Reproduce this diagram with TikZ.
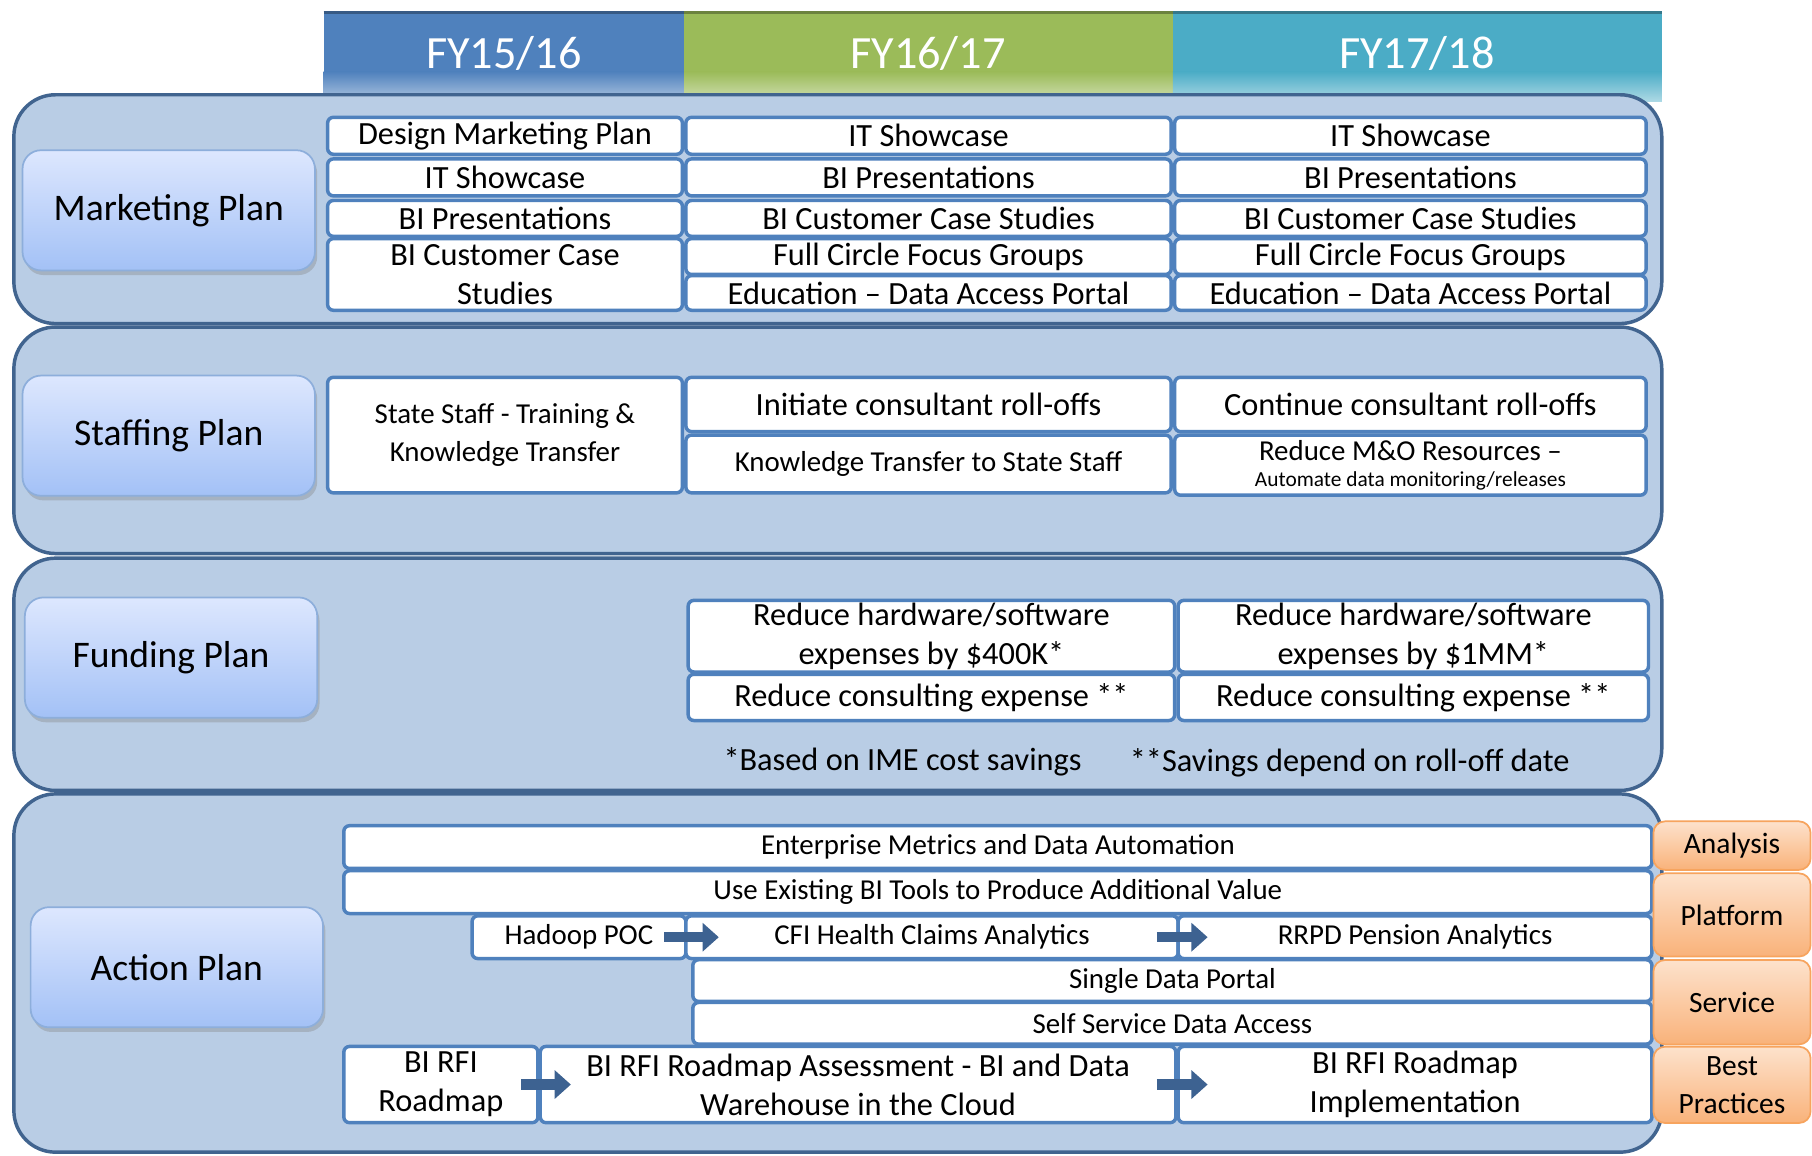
\documentclass[tikz,border=0pt]{standalone}
\usepackage{fontspec}
\setmainfont{Carlito}
\usetikzlibrary{arrows.meta,shadows}
\definecolor{fyblue}{HTML}{4F81BD}
\definecolor{fygreen}{HTML}{9BBB59}
\definecolor{fyteal}{HTML}{4BACC6}
\definecolor{panelfill}{HTML}{B9CDE5}
\definecolor{paneldraw}{HTML}{41648F}
\definecolor{cellblue}{HTML}{4F81BD}
\definecolor{arrowblue}{HTML}{3D6291}
\definecolor{plantop}{HTML}{DDE7FE}
\definecolor{planbot}{HTML}{A3C1F6}
\definecolor{plandraw}{HTML}{8DAEDB}
\definecolor{cattop}{HTML}{FDE2CC}
\definecolor{catbot}{HTML}{F9B27A}
\definecolor{catdraw}{HTML}{F7A45E}
\tikzset{
  panel/.style={draw=paneldraw, line width=3pt, fill=panelfill, rounded corners=36pt},
  plan/.style={draw=plandraw, line width=1.5pt, rounded corners=16pt, top color=plantop,
    bottom color=planbot, minimum width=253pt, minimum height=104pt,
    font=\fontsize{32.5}{38}\selectfont,
    drop shadow={shadow xshift=2pt, shadow yshift=-4pt, opacity=.35}},
  cell/.style={draw=cellblue, line width=3pt, fill=white, rounded corners=5pt,
    inner sep=0pt, anchor=north west, align=center, font=\fontsize{28}{34}\selectfont},
  small/.style={font=\fontsize{25}{33}\selectfont},
  act/.style={cell, font=\fontsize{25}{30}\selectfont},
  big/.style={cell, font=\fontsize{28}{34}\selectfont},
  cat/.style={draw=catdraw, line width=1.5pt, rounded corners=10pt, top color=cattop,
    bottom color=catbot, anchor=north west, inner sep=0pt, align=center,
    minimum width=136pt, font=\fontsize{25.5}{33}\selectfont},
  hdrtext/.style={text=white, font=\fontsize{40}{48}\selectfont},
  note/.style={font=\fontsize{28}{34}\selectfont},
  flow/.style={draw=arrowblue, line width=9pt, -{Triangle[length=14pt,width=24pt]}}
}
\begin{document}
\begin{tikzpicture}[x=1pt,y=1pt]
  \fill[white] (0,0) rectangle (1568,-1000);
  \useasboundingbox (0,0) rectangle (1568,-1000);
  % year headers
  \fill[fyblue] (280,-10) rectangle (592,-62);
  \shade[top color=fyblue, bottom color=fyblue!45!white] (280,-62) rectangle (592,-88);
  \fill[fygreen] (592,-10) rectangle (1015,-62);
  \shade[top color=fygreen, bottom color=fygreen!45!white] (592,-62) rectangle (1015,-88);
  \fill[fyteal] (1015,-10) rectangle (1438,-62);
  \shade[top color=fyteal, bottom color=fyteal!45!white] (1015,-62) rectangle (1438,-88);
  \draw[line width=2.5pt, fyblue!70!black] (280,-11) -- (592,-11);
  \draw[line width=2.5pt, fygreen!70!black] (592,-11) -- (1015,-11);
  \draw[line width=2.5pt, fyteal!70!black] (1015,-11) -- (1438,-11);
  \node[hdrtext] (fy1) at (436,-46) {FY15/16};
  \node[hdrtext] (fy2) at (803,-46) {FY16/17};
  \node[hdrtext] (fy3) at (1226,-46) {FY17/18};
  % panels
  \draw[panel] (12,-82) rectangle (1438,-280);
  \draw[panel] (12,-283) rectangle (1438,-479);
  \draw[panel] (12,-483) rectangle (1438,-684);
  \draw[panel] (12,-687) rectangle (1438,-997);
  % plan labels
  \node[plan] (mkt) at (146,-182) {Marketing Plan};
  \node[plan] (stf) at (146,-377) {Staffing Plan};
  \node[plan] (fnd) at (148,-569) {Funding Plan};
  \node[plan] (act) at (153,-837) {Action Plan};
  % marketing
  \node[cell, minimum width=307pt, minimum height=32pt] (m11) at (282,-100) {Design Marketing Plan};
  \node[cell, minimum width=307pt, minimum height=32pt] (m12) at (282,-136) {IT Showcase};
  \node[cell, minimum width=307pt, minimum height=31pt] (m13) at (282,-172) {BI Presentations};
  \node[cell, minimum width=307pt, minimum height=62pt] (m14) at (282,-205) {BI Customer Case\\Studies};
  \node[cell, minimum width=420pt, minimum height=32pt] (m21) at (592,-100) {IT Showcase};
  \node[cell, minimum width=420pt, minimum height=32pt] (m22) at (592,-136) {BI Presentations};
  \node[cell, minimum width=420pt, minimum height=31pt] (m23) at (592,-172) {BI Customer Case Studies};
  \node[cell, minimum width=420pt, minimum height=31pt] (m24) at (592,-205) {Full Circle Focus Groups};
  \node[cell, minimum width=420pt, minimum height=30pt] (m25) at (592,-237) {Education -- Data Access Portal};
  \node[cell, minimum width=408pt, minimum height=32pt] (m31) at (1015,-100) {IT Showcase};
  \node[cell, minimum width=408pt, minimum height=32pt] (m32) at (1015,-136) {BI Presentations};
  \node[cell, minimum width=408pt, minimum height=31pt] (m33) at (1015,-172) {BI Customer Case Studies};
  \node[cell, minimum width=408pt, minimum height=31pt] (m34) at (1015,-205) {Full Circle Focus Groups};
  \node[cell, minimum width=408pt, minimum height=30pt] (m35) at (1015,-237) {Education -- Data Access Portal};
  % staffing
  \node[cell, small, minimum width=307pt, minimum height=100pt] (s11) at (282,-325) {State Staff - Training \&\\Knowledge Transfer};
  \node[cell, minimum width=420pt, minimum height=47pt] (s21) at (592,-325) {Initiate consultant roll-offs};
  \node[cell, small, minimum width=420pt, minimum height=50pt] (s22) at (592,-375) {Knowledge Transfer to State Staff};
  \node[cell, minimum width=408pt, minimum height=47pt] (s31) at (1015,-325) {Continue consultant roll-offs};
  \node[cell, small, minimum width=408pt, minimum height=52pt] (s32) at (1015,-375)
    {Reduce M\&O Resources --\\[-10pt]{\fontsize{18.5}{22}\selectfont Automate data monitoring/releases}};
  % funding
  \node[cell, minimum width=421pt, minimum height=62pt] (f21) at (594,-518) {Reduce hardware/software\\expenses by \$400K*};
  \node[cell, minimum width=421pt, minimum height=40pt] (f22) at (594,-582) {Reduce consulting expense **};
  \node[cell, minimum width=407pt, minimum height=62pt] (f31) at (1018,-518) {Reduce hardware/software\\expenses by \$1MM*};
  \node[cell, minimum width=407pt, minimum height=40pt] (f32) at (1018,-582) {Reduce consulting expense **};
  \node[note] (fn1) at (781,-659) {*Based on IME cost savings};
  \node[note] (fn2) at (1168,-660) {**Savings depend on roll-off date};
  % action
  \node[act, minimum width=1132pt, minimum height=37pt] (ent) at (296,-713) {Enterprise Metrics and Data Automation};
  \node[act, minimum width=1132pt, minimum height=37pt] (use) at (296,-752) {Use Existing BI Tools to Produce Additional Value};
  \node[act, minimum width=185pt, minimum height=37pt] (hadoop) at (407,-791) {Hadoop POC};
  \node[act, minimum width=426pt, minimum height=37pt] (cfi) at (592,-791) {CFI Health Claims Analytics};
  \node[act, minimum width=410pt, minimum height=37pt] (rrpd) at (1018,-791) {RRPD Pension Analytics};
  \node[act, minimum width=830pt, minimum height=36pt] (sdp) at (598,-829) {Single Data Portal};
  \node[act, minimum width=830pt, minimum height=36pt] (ssda) at (598,-866) {Self Service Data Access};
  \node[big, minimum width=168pt, minimum height=66pt] (rfi) at (296,-904) {BI RFI\\Roadmap};
  \node[big, minimum width=550pt, minimum height=66pt] (assess) at (466,-904) {BI RFI Roadmap Assessment - BI and Data\\Warehouse in the Cloud};
  \node[big, minimum width=410pt, minimum height=66pt] (impl) at (1018,-904) {BI RFI Roadmap\\Implementation};
  \draw[flow] ([xshift=-20pt]hadoop.east) -- ([xshift=30pt]cfi.west);
  \draw[flow] ([xshift=-20pt]cfi.east) -- ([xshift=27pt]rrpd.west);
  \draw[flow] ([xshift=-16pt]rfi.east) -- ([xshift=28pt]assess.west);
  \draw[flow] ([xshift=-18pt]assess.east) -- ([xshift=27pt]impl.west);
  % categories
  \node[cat, minimum height=42pt] (ana) at (1430,-710) {Analysis};
  \node[cat, minimum height=72pt] (plat) at (1430,-755) {Platform};
  \node[cat, minimum height=73pt] (serv) at (1430,-830) {Service};
  \node[cat, minimum height=66pt] (best) at (1430,-905) {Best\\Practices};
\end{tikzpicture}
\end{document}
